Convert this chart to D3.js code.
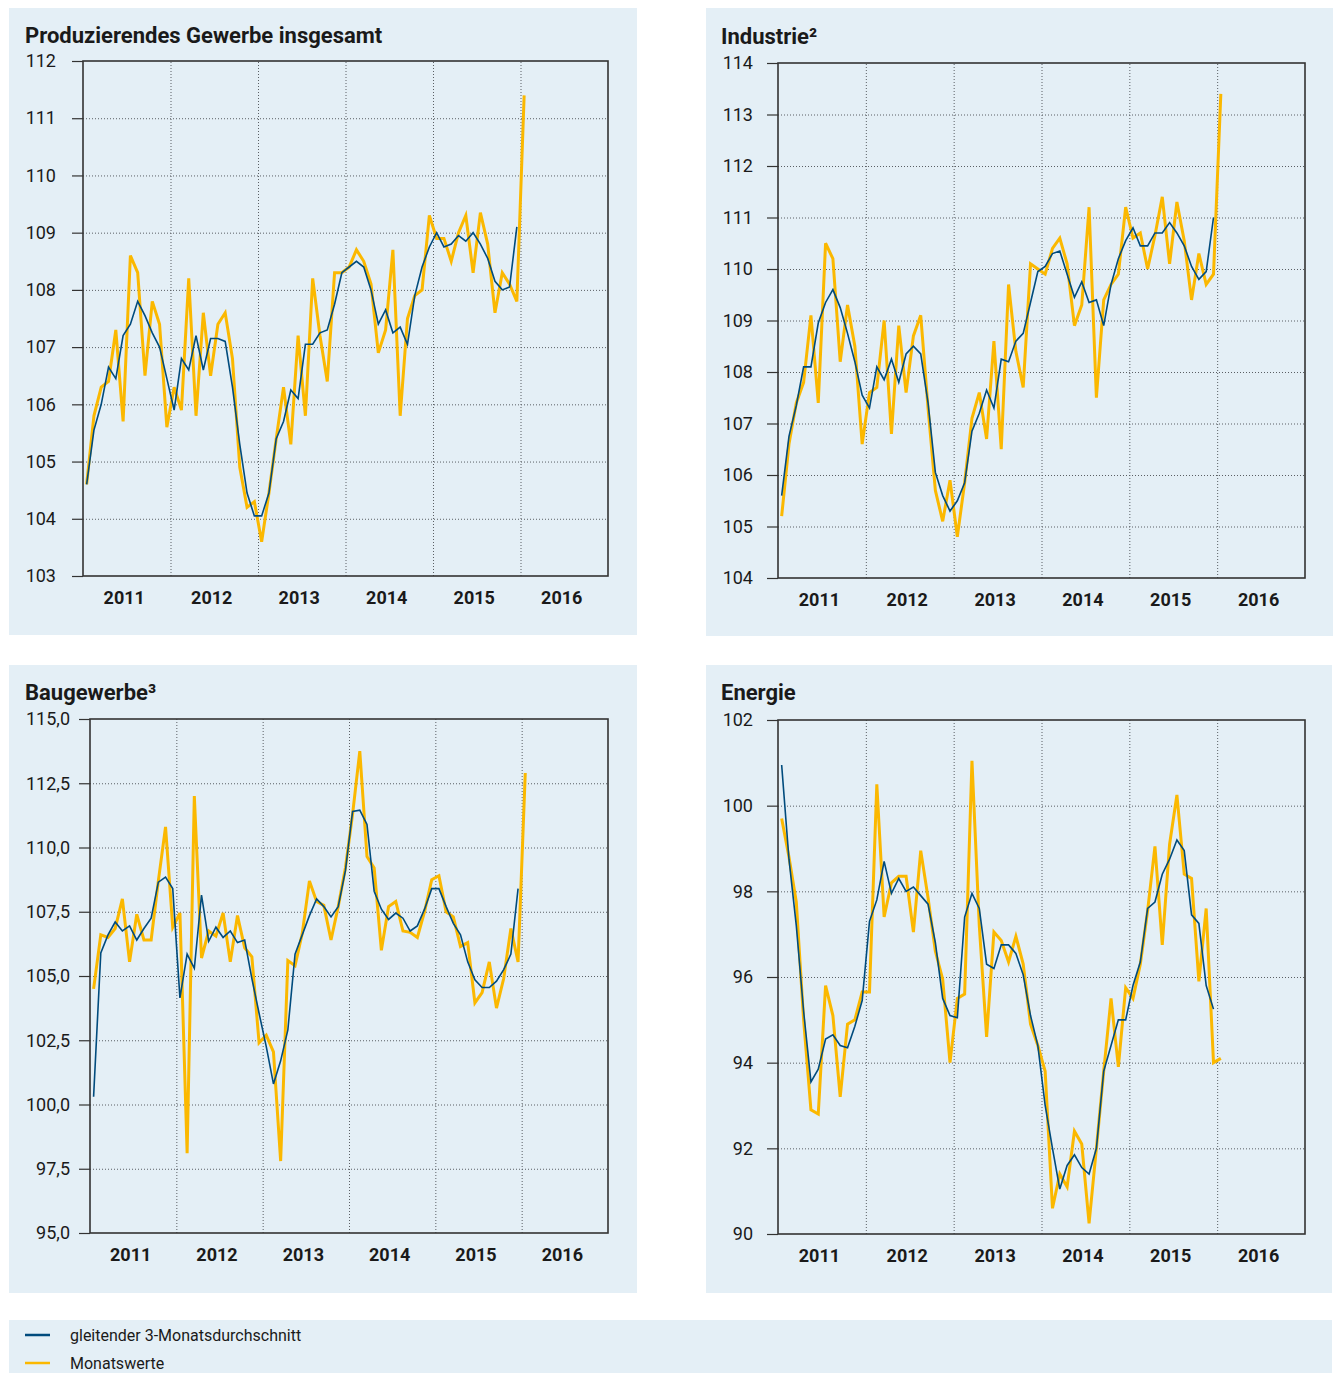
<!DOCTYPE html>
<html>
<head>
<meta charset="utf-8">
<script src="https://cdn.jsdelivr.net/npm/d3@7"></script>
<style>
  body { margin: 0; background: #fff; }
  svg text { font-family: Roboto, "Noto Sans", sans-serif; fill: #1a1a1a; }
</style>
</head>
<body>
<svg id="chart" width="1336" height="1373"></svg>
<script>
// Jahre (x-Achse), Monatswerte Jan 2011 - Jan 2016, gleitender Durchschnitt Jan 2011 - Dez 2015
const years = ['2011', '2012', '2013', '2014', '2015', '2016'];

const gesamtMonat = [104.6, 105.8, 106.3, 106.4, 107.3, 105.7, 108.6, 108.3, 106.5, 107.8, 107.4, 105.6,
  106.3, 105.9, 108.2, 105.8, 107.6, 106.5, 107.4, 107.6, 106.8, 104.9, 104.2, 104.3,
  103.6, 104.45, 105.4, 106.3, 105.3, 107.2, 105.8, 108.2, 107.2, 106.4, 108.3, 108.3,
  108.4, 108.7, 108.5, 108.1, 106.9, 107.3, 108.7, 105.8, 107.5, 107.9, 108.0, 109.3,
  108.9, 108.9, 108.5, 109.0, 109.3, 108.3, 109.35, 108.8, 107.6, 108.3, 108.1, 107.8,
  111.4];
const gesamtSchnitt = [104.6, 105.55, 106.0, 106.65, 106.45, 107.2, 107.4, 107.8, 107.55, 107.25, 107.0, 106.45,
  105.9, 106.8, 106.6, 107.2, 106.6, 107.15, 107.15, 107.1, 106.3, 105.3, 104.45, 104.05,
  104.05, 104.45, 105.4, 105.7, 106.25, 106.1, 107.05, 107.05, 107.25, 107.3, 107.75, 108.3,
  108.4, 108.5, 108.4, 108.0, 107.4, 107.65, 107.25, 107.35, 107.05, 107.9, 108.4, 108.75,
  109.0, 108.75, 108.8, 108.95, 108.85, 109.0, 108.8, 108.55, 108.15, 108.0, 108.05, 109.1];

const industrieMonat = [105.2, 106.6, 107.4, 107.8, 109.1, 107.4, 110.5, 110.2, 108.2, 109.3, 108.5, 106.6,
  107.6, 107.7, 109.0, 106.8, 108.9, 107.6, 108.7, 109.1, 107.3, 105.7, 105.1, 105.9,
  104.8, 105.85, 107.1, 107.6, 106.7, 108.6, 106.5, 109.7, 108.4, 107.7, 110.1, 110.0,
  109.9, 110.4, 110.6, 110.1, 108.9, 109.3, 111.2, 107.5, 109.4, 109.7, 109.9, 111.2,
  110.6, 110.7, 110.0, 110.65, 111.4, 110.1, 111.3, 110.55, 109.4, 110.3, 109.7, 109.9,
  113.4];
const industrieSchnitt = [105.6, 106.75, 107.35, 108.1, 108.1, 108.95, 109.35, 109.6, 109.25, 108.75, 108.2, 107.55,
  107.3, 108.1, 107.85, 108.25, 107.8, 108.35, 108.5, 108.35, 107.4, 106.05, 105.6, 105.3,
  105.5, 105.85, 106.85, 107.2, 107.65, 107.3, 108.25, 108.2, 108.6, 108.75, 109.35, 109.95,
  110.05, 110.3, 110.35, 109.9, 109.45, 109.75, 109.35, 109.4, 108.9, 109.7, 110.2, 110.55,
  110.8, 110.45, 110.45, 110.7, 110.7, 110.9, 110.7, 110.45, 110.05, 109.8, 109.95, 111.0];

const bauMonat = [104.5, 106.6, 106.5, 106.85, 108.0, 105.55, 107.4, 106.4, 106.4, 108.7, 110.8, 106.9,
  107.45, 98.1, 112.0, 105.7, 106.75, 106.55, 107.45, 105.55, 107.35, 106.1, 105.75, 102.4,
  102.7, 102.05, 97.8, 105.6, 105.4, 106.65, 108.7, 107.9, 107.75, 106.4, 107.7, 109.2,
  111.3, 113.75, 109.65, 109.2, 106.0, 107.7, 107.9, 106.75, 106.7, 106.5, 107.5, 108.75,
  108.9, 107.5, 107.3, 106.15, 106.3, 103.95, 104.35, 105.55, 103.75, 104.9, 106.85, 105.55,
  112.9];
const bauSchnitt = [100.3, 105.9, 106.6, 107.1, 106.75, 106.95, 106.4, 106.85, 107.25, 108.65, 108.85, 108.4,
  104.15, 105.85, 105.3, 108.15, 106.35, 106.9, 106.5, 106.75, 106.3, 106.4, 104.9, 103.55,
  102.25, 100.8, 101.7, 102.9, 105.85, 106.6, 107.35, 108.0, 107.7, 107.3, 107.7, 109.1,
  111.4, 111.45, 110.9, 108.3, 107.6, 107.2, 107.45, 107.25, 106.75, 106.95, 107.6, 108.4,
  108.4, 107.7, 107.05, 106.6, 105.55, 104.85, 104.55, 104.55, 104.8, 105.25, 105.85, 108.4];

const energieMonat = [99.7, 98.8, 97.75, 95.0, 92.9, 92.8, 95.8, 95.1, 93.2, 94.9, 95.0, 95.65,
  95.65, 100.5, 97.4, 98.2, 98.35, 98.35, 97.05, 98.95, 97.85, 96.6, 95.95, 94.0,
  95.5, 95.6, 101.05, 97.2, 94.6, 97.05, 96.85, 96.35, 96.95, 96.3, 94.9, 94.4,
  93.8, 90.6, 91.4, 91.1, 92.4, 92.1, 90.25, 92.0, 93.8, 95.5, 93.9, 95.75,
  95.5, 96.3, 97.55, 99.05, 96.75, 99.1, 100.25, 98.4, 98.3, 95.9, 97.6, 94.0,
  94.1];
const energieSchnitt = [100.95, 98.75, 97.2, 95.2, 93.55, 93.85, 94.55, 94.65, 94.4, 94.35, 94.85, 95.45,
  97.3, 97.8, 98.7, 97.95, 98.3, 98.0, 98.1, 97.9, 97.7, 96.8, 95.5, 95.1,
  95.05, 97.4, 97.95, 97.6, 96.3, 96.2, 96.75, 96.75, 96.55, 96.05, 95.1, 94.4,
  93.0, 92.0, 91.05, 91.6, 91.85, 91.55, 91.4, 92.0, 93.8, 94.4, 95.0, 95.0,
  95.8, 96.35, 97.6, 97.75, 98.4, 98.75, 99.2, 98.95, 97.45, 97.25, 95.8, 95.25];

const gesamtTicks = [103, 104, 105, 106, 107, 108, 109, 110, 111, 112];
const industrieTicks = [104, 105, 106, 107, 108, 109, 110, 111, 112, 113, 114];
const bauTicks = [95, 97.5, 100, 102.5, 105, 107.5, 110, 112.5, 115];
const energieTicks = [90, 92, 94, 96, 98, 100, 102];

const ORANGE = '#fbb800';
const BLUE = '#004b7d';
const BG = '#e4eff6';

const de = d3.formatLocale({ decimal: ',', thousands: '.', grouping: [3], currency: ['', ' €'] });

const panels = [
  { title: 'Produzierendes Gewerbe insgesamt', monat: gesamtMonat, schnitt: gesamtSchnitt, ticks: gesamtTicks, fmt: d3.format('d'), pad: 16,
    bg: [9, 8, 628, 627], plot: [83, 61, 608, 576], tx: 25, ty: 43 },
  { title: 'Industrie²', monat: industrieMonat, schnitt: industrieSchnitt, ticks: industrieTicks, fmt: d3.format('d'), pad: 14,
    bg: [706, 8, 627, 628], plot: [778, 63, 1305, 578], tx: 721, ty: 44 },
  { title: 'Baugewerbe³', monat: bauMonat, schnitt: bauSchnitt, ticks: bauTicks, fmt: de.format('.1f'), pad: 9,
    bg: [9, 665, 628, 628], plot: [90, 719, 608, 1233], tx: 25, ty: 700 },
  { title: 'Energie', monat: energieMonat, schnitt: energieSchnitt, ticks: energieTicks, fmt: d3.format('d'), pad: 14,
    bg: [706, 665, 626, 628], plot: [778, 720, 1305, 1234], tx: 721, ty: 700 }
];

const svg = d3.select('#chart');

panels.forEach(p => {
  const [bx, by, bw, bh] = p.bg;
  const [x0, y0, x1, y1] = p.plot;

  svg.append('rect').attr('x', bx).attr('y', by).attr('width', bw).attr('height', bh).attr('fill', BG);

  svg.append('text')
    .attr('x', p.tx).attr('y', p.ty)
    .attr('font-size', 22).attr('font-weight', 700)
    .text(p.title);

  // monthly scale: 6 years, 12 months each
  const x = d3.scaleLinear().domain([0, years.length * 12]).range([x0, x1]);
  const y = d3.scaleLinear().domain(d3.extent(p.ticks)).range([y1, y0]);

  const g = svg.append('g');

  // horizontal grid
  g.append('g')
    .attr('transform', `translate(${x0},0)`)
    .call(d3.axisLeft(y).tickValues(p.ticks.slice(1, -1)).tickSize(-(x1 - x0)).tickFormat(''))
    .call(s => s.select('.domain').remove())
    .selectAll('line')
    .attr('stroke', '#5a5f64').attr('stroke-dasharray', '1,2');

  // vertical grid at year boundaries
  const yearStarts = years.slice(1).map((d, i) => (i + 1) * 12);
  g.append('g')
    .attr('transform', `translate(0,${y1})`)
    .call(d3.axisBottom(x).tickValues(yearStarts).tickSize(-(y1 - y0)).tickFormat(''))
    .call(s => s.select('.domain').remove())
    .selectAll('line')
    .attr('stroke', '#5a5f64').attr('stroke-dasharray', '1,2');

  // y axis labels and ticks
  const yAxis = g.append('g')
    .attr('transform', `translate(${x0},0)`)
    .call(d3.axisLeft(y).tickValues(p.ticks).tickSize(11).tickPadding(p.pad).tickFormat(p.fmt));
  yAxis.select('.domain').remove();
  yAxis.selectAll('line').attr('stroke', '#333').attr('stroke-width', 1.2);
  yAxis.selectAll('text').attr('font-size', 18).attr('fill', '#1a1a1a')
    .attr('font-family', 'Roboto, "Noto Sans", sans-serif');

  // year labels
  const xAxis = g.append('g')
    .attr('transform', `translate(0,${y1})`)
    .call(d3.axisBottom(x).tickValues(years.map((d, i) => i * 12 + 6)).tickSize(0).tickPadding(15)
      .tickFormat((d, i) => years[i]));
  xAxis.select('.domain').remove();
  xAxis.selectAll('text').attr('font-size', 18).attr('font-weight', 700).attr('fill', '#1a1a1a')
    .attr('dx', -3)
    .attr('font-family', 'Roboto, "Noto Sans", sans-serif');

  // frame
  g.append('rect').attr('x', x0).attr('y', y0).attr('width', x1 - x0).attr('height', y1 - y0)
    .attr('fill', 'none').attr('stroke', '#333').attr('stroke-width', 1.6);

  const line = d3.line().x((d, i) => x(i + 0.5)).y(d => y(d));

  g.append('path').datum(p.monat)
    .attr('fill', 'none').attr('stroke', ORANGE).attr('stroke-width', 3).attr('stroke-linejoin', 'miter')
    .attr('d', line);
  g.append('path').datum(p.schnitt)
    .attr('fill', 'none').attr('stroke', BLUE).attr('stroke-width', 1.6)
    .attr('d', line);
});

// legend
svg.append('rect').attr('x', 9).attr('y', 1320).attr('width', 1323).attr('height', 53).attr('fill', BG);
const legend = [
  { label: 'gleitender 3-Monatsdurchschnitt', color: BLUE, y: 1335 },
  { label: 'Monatswerte', color: ORANGE, y: 1363 }
];
legend.forEach(l => {
  svg.append('line').attr('x1', 25).attr('x2', 50).attr('y1', l.y).attr('y2', l.y)
    .attr('stroke', l.color).attr('stroke-width', 2.5);
  svg.append('text').attr('x', 70).attr('y', l.y + 5.5).attr('font-size', 16).text(l.label);
});
</script>
</body>
</html>
